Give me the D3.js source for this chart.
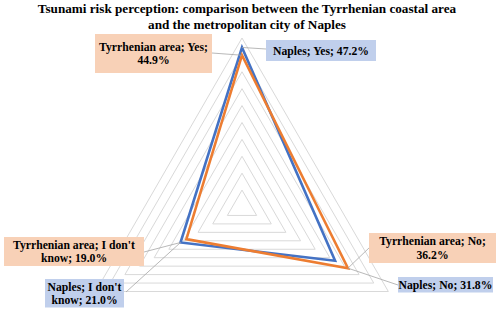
<!DOCTYPE html>
<html><head><meta charset="utf-8">
<script src="https://cdn.jsdelivr.net/npm/d3@7"></script>
<style>
html,body{margin:0;padding:0;background:#fff;}
text{font-family:'Liberation Serif','Times New Roman',Times,serif;}
</style></head>
<body>
<svg id="chart" width="500" height="312" style="display:block"></svg>
<script>
// ---- data ----
const categories = ["Yes", "No", "I don't know"];
const seriesNames = ["Tyrrhenian area", "Naples"];
const tyrrhenian = [44.9, 36.2, 19.0];
const naples = [47.2, 31.8, 21.0];
const maxValue = 50;
const titleLines = ["Tsunami risk perception: comparison between the Tyrrhenian coastal area",
                    "and the metropolitan city of Naples"];

// ---- layout ----
const W = 500, H = 312;
const cx = 242, cy = 207, R = 169;
const colors = ["#ED7D31", "#4472C4"];
const boxFills = ["#F8D1B7", "#C0CFEC"];
const FONT = "Liberation Serif, Times New Roman, serif";

const svg = d3.select("#chart");
const r = d3.scaleLinear().domain([0, maxValue]).range([0, R]);
const angle = d3.scalePoint().domain(categories).range([0, 2*Math.PI*2/3]);
const pt = (cat, v) => {
  const a = angle(cat);
  return [cx + r(v)*Math.sin(a), cy - r(v)*Math.cos(a)];
};

// title
svg.append("g").selectAll("text").data(titleLines).join("text")
  .attr("x", 247).attr("y", (d,i) => 13.3 + i*15.4)
  .attr("font-family", FONT)
  .attr("text-anchor", "middle").attr("font-weight", "bold").attr("font-size", 13.2)
  .attr("fill", "#000").text(d => d);

// grid
const gridVals = r.ticks(10).filter(v => v > 0);
svg.append("g").selectAll("path").data(gridVals).join("path")
  .attr("d", v => "M" + categories.map(c => pt(c, v).join(",")).join("L") + "Z")
  .attr("fill", "none").attr("stroke", "#d9d9d9").attr("stroke-width", 1);

// series
const seriesData = [tyrrhenian, naples];
const drawOrder = [1, 0];
svg.append("g").selectAll("path").data(drawOrder).join("path")
  .attr("d", si => "M" + categories.map((c,i) => pt(c, seriesData[si][i]).join(",")).join("L") + "Z")
  .attr("fill", "none").attr("stroke", si => colors[si]).attr("stroke-width", 2.6)
  .attr("stroke-linejoin", "miter");

// data labels (box positions are layout)
const labels = [
  {s:0, c:0, lines:["Tyrrhenian area; Yes;", "44.9%"], box:[95,34,117,39], from:[212,53], tgt:0},
  {s:1, c:0, lines:["Naples; Yes; 47.2%"], box:[266,40,110,21], from:[266,49], tgt:1},
  {s:0, c:1, lines:["Tyrrhenian area; No;", "36.2%"], box:[369,233,127,30], from:[370,247], tgt:0},
  {s:1, c:1, lines:["Naples; No; 31.8%"], box:[398,277,95,15.5], from:[398,285], tgt:0},
  {s:0, c:2, lines:["Tyrrhenian area; I don't", "know; 19.0%"], box:[4,237,140,29], from:[144,252], tgt:1},
  {s:1, c:2, lines:["Naples; I don't", "know; 21.0%"], box:[45,279,79,28.5], from:[126,292], tgt:1}
];
const lg = svg.append("g");
labels.forEach(l => {
  const cat = categories[l.c];
  const p = pt(cat, seriesData[l.tgt][l.c]);
  lg.append("line").attr("x1", l.from[0]).attr("y1", l.from[1]).attr("x2", p[0]).attr("y2", p[1])
    .attr("stroke", "#a6a6a6").attr("stroke-width", 0.8);
});
labels.forEach(l => {
  const [x,y,w,h] = l.box;
  lg.append("rect").attr("x", x).attr("y", y).attr("width", w).attr("height", h).attr("fill", boxFills[l.s]);
  const n = l.lines.length, lh = 13.5;
  const y0 = y + h/2 - (n-1)*lh/2 + 4.1;
  l.lines.forEach((t,i) => {
    lg.append("text").attr("x", x + w/2).attr("y", y0 + i*lh)
      .attr("font-family", FONT)
      .attr("text-anchor", "middle").attr("font-weight", "bold").attr("font-size", 11.7)
      .attr("fill", "#000").text(t);
  });
});
</script>
</body></html>
